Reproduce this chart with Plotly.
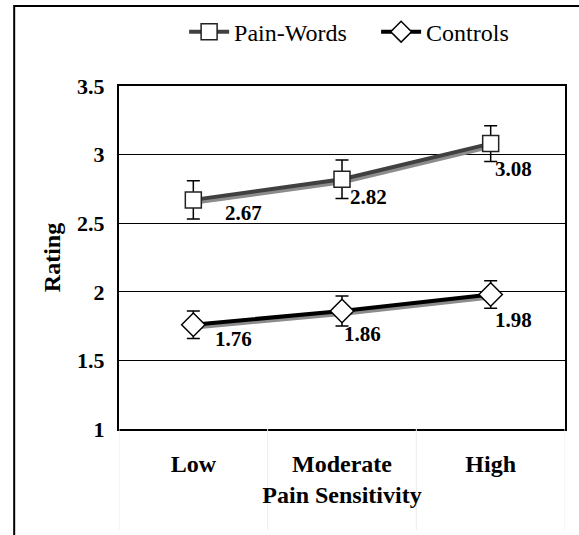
import plotly.graph_objects as go

categories = ["Low", "Moderate", "High"]
pain_words = [2.67, 2.82, 3.08]
pain_words_err = [0.14, 0.14, 0.13]
controls = [1.76, 1.86, 1.98]
controls_err = [0.10, 0.11, 0.10]
y_ticks = [1, 1.5, 2, 2.5, 3, 3.5]
y_tick_labels = ["1", "1.5", "2", "2.5", "3", "3.5"]

FONT = "Times New Roman, Liberation Serif, DejaVu Serif, serif"
xpos = list(range(len(categories)))

fig = go.Figure()

# shadows
for vals in [pain_words, controls]:
    fig.add_trace(go.Scatter(
        x=[p + 0.012 for p in xpos], y=[v - 0.02 for v in vals], mode="lines",
        line=dict(color="#8c8c8c", width=4), showlegend=False, hoverinfo="skip"))

fig.add_trace(go.Scatter(
    x=xpos, y=pain_words, name="Pain-Words", mode="lines+markers",
    line=dict(color="#404040", width=4),
    marker=dict(symbol="square", size=16, color="white",
                line=dict(color="#222222", width=1.5)),
    error_y=dict(type="data", array=pain_words_err, color="black",
                 thickness=1.5, width=6.5)))
fig.add_trace(go.Scatter(
    x=xpos, y=controls, name="Controls", mode="lines+markers",
    line=dict(color="black", width=4),
    marker=dict(symbol="diamond", size=18, color="white",
                line=dict(color="black", width=1.5)),
    error_y=dict(type="data", array=controls_err, color="black",
                 thickness=1.5, width=6.5)))

pw_shift = [(50, -13), (26, -18), (23, -25)]
ct_shift = [(40, -14), (20, -23), (23, -25)]
for vals, shifts in [(pain_words, pw_shift), (controls, ct_shift)]:
    for i, v in enumerate(vals):
        fig.add_annotation(x=xpos[i], y=v, text=f"<b>{v:.2f}</b>", showarrow=False,
                           xshift=shifts[i][0], yshift=shifts[i][1],
                           font=dict(family=FONT, size=21, color="black"))

# category divider lines below axis
for b in [-0.5, 0.5, 1.5, 2.5]:
    fig.add_shape(type="line", xref="x", yref="paper", x0=b, x1=b,
                  y0=0, y1=-0.295, line=dict(color="#ececec", width=1))

# outer border
fig.add_shape(type="rect", xref="paper", yref="paper",
              x0=-0.235, x1=1.2, y0=1.233, y1=-0.6,
              line=dict(color="black", width=2))

fig.update_layout(
    width=579, height=535,
    margin=dict(l=119, r=14, t=86, b=106, autoexpand=False),
    paper_bgcolor="white", plot_bgcolor="white",
    font=dict(family=FONT, color="black"),
    legend=dict(orientation="h", x=0.146, xanchor="left",
                yref="container", y=0.94, yanchor="middle",
                bgcolor="rgba(0,0,0,0)",
                font=dict(family=FONT, size=24),
                itemwidth=40, tracegroupgap=0,
                entrywidth=137, entrywidthmode="pixels"),
    xaxis=dict(range=[-0.5, 2.5], tickvals=xpos,
               ticktext=[f"<b>{c}</b>" for c in categories],
               showgrid=False, zeroline=False, showline=True,
               linecolor="black", linewidth=2, mirror=True, ticks="",
               automargin=False, ticklabelstandoff=12,
               tickfont=dict(family=FONT, size=24),
               title=dict(text="<b>Pain Sensitivity</b>", standoff=10,
                          font=dict(family=FONT, size=24))),
    yaxis=dict(range=[1, 3.5], tickvals=y_ticks,
               ticktext=[f"<b>{t}</b>" for t in y_tick_labels],
               showgrid=True, gridcolor="black", gridwidth=1,
               zeroline=False, showline=True, linecolor="black",
               linewidth=2, mirror=True, ticks="",
               automargin=False, ticklabelstandoff=8,
               tickfont=dict(family=FONT, size=22),
               title=dict(text="<b>Rating</b>", standoff=10,
                          font=dict(family=FONT, size=24))),
)

fig.write_html("out.html", config={"displayModeBar": False},
               post_script="document.body.style.margin='0';")
